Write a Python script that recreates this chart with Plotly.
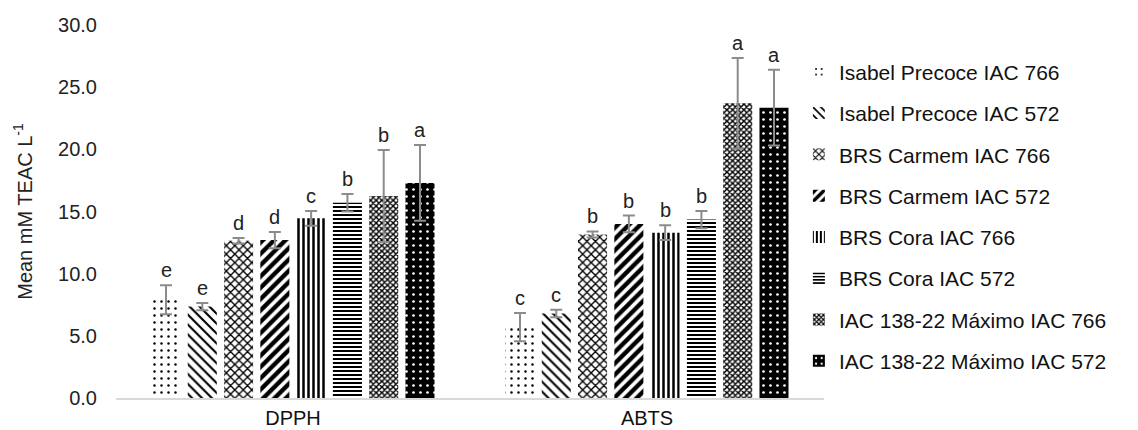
import plotly.graph_objects as go

assays = ["DPPH", "ABTS"]

cultivars = [
    "Isabel Precoce IAC 766",
    "Isabel Precoce IAC 572",
    "BRS Carmem IAC 766",
    "BRS Carmem IAC 572",
    "BRS Cora IAC 766",
    "BRS Cora IAC 572",
    "IAC 138-22 Máximo IAC 766",
    "IAC 138-22 Máximo IAC 572",
]

# Mean values per cultivar: [DPPH, ABTS]
means = [
    [7.9, 5.7],
    [7.35, 6.8],
    [12.65, 13.15],
    [12.7, 14.0],
    [14.45, 13.3],
    [15.7, 14.35],
    [16.25, 23.7],
    [17.3, 23.35],
]

# Standard deviations per cultivar: [DPPH, ABTS]
errors = [
    [1.17, 1.13],
    [0.3, 0.3],
    [0.22, 0.25],
    [0.65, 0.67],
    [0.6, 0.6],
    [0.7, 0.7],
    [3.7, 3.65],
    [3.05, 3.05],
]

# Significance letters per cultivar: [DPPH, ABTS]
letters = [
    ["e", "c"],
    ["e", "c"],
    ["d", "b"],
    ["d", "b"],
    ["c", "b"],
    ["b", "b"],
    ["b", "a"],
    ["a", "a"],
]

patterns = [
    dict(shape=".", size=7, solidity=0.1, fgcolor="black", bgcolor="white"),
    dict(shape="\\", size=7, solidity=0.3, fgcolor="black", bgcolor="white"),
    dict(shape="x", size=6, solidity=0.4, fgcolor="black", bgcolor="white"),
    dict(shape="/", size=8, solidity=0.55, fgcolor="black", bgcolor="white"),
    dict(shape="|", size=5, solidity=0.5, fgcolor="black", bgcolor="white"),
    dict(shape="-", size=4, solidity=0.5, fgcolor="black", bgcolor="white"),
    dict(shape="x", size=4, solidity=0.6, fgcolor="black", bgcolor="white"),
    dict(shape=".", size=7, solidity=0.12, fgcolor="white", bgcolor="black"),
]

FONT = "Arial, Liberation Sans, sans-serif"

fig = go.Figure()
for i, name in enumerate(cultivars):
    pat = dict(patterns[i], fgopacity=1, fillmode="replace")
    fig.add_trace(go.Bar(
        name=name,
        x=assays,
        y=means[i],
        legendgroup=name,
        marker=dict(color="white", line=dict(width=0), pattern=pat),
        error_y=dict(type="data", array=errors[i], visible=True,
                     color="#8c8c8c", thickness=2, width=6),
    ))

# Letters above each error bar
annotations = []
n = len(cultivars)
for i in range(n):
    for j, assay in enumerate(assays):
        offset = (i - (n - 1) / 2) / n * 0.82
        annotations.append(dict(
            x=j + offset, y=means[i][j] + errors[i][j],
            xref="x", yref="y",
            text=letters[i][j], showarrow=False,
            yanchor="bottom", yshift=2,
            font=dict(family=FONT, size=20, color="#222222"),
        ))

fig.update_layout(
    width=1138, height=430,
    margin=dict(l=116, r=314, t=25, b=32, autoexpand=False),
    paper_bgcolor="white", plot_bgcolor="white",
    barmode="group", bargap=0.18, bargroupgap=0.2,
    font=dict(family=FONT, size=20, color="#333333"),
    showlegend=True,
    legend=dict(
        x=0.702, xref="container", xanchor="left",
        y=0.88, yref="container", yanchor="top",
        font=dict(family=FONT, size=21, color="#111111"),
        tracegroupgap=11, traceorder="grouped",
        maxheight=1.0, itemclick=False,
    ),
    annotations=annotations,
)
fig.update_xaxes(
    type="category", range=[-0.5, 1.5], automargin=False,
    showline=True, linecolor="#d9d9d9", linewidth=2,
    showgrid=False, ticks="", ticklabelstandoff=1,
    tickfont=dict(family=FONT, size=20, color="#111111"),
)
fig.update_yaxes(
    range=[0, 30], dtick=5, tickformat=".1f", automargin=False,
    showgrid=False, zeroline=False, showline=False,
    ticks="", ticklabelstandoff=18,
    tickfont=dict(family=FONT, size=20, color="#222222"),
    title=dict(text="Mean mM TEAC L<sup>-1</sup>", standoff=20,
               font=dict(family=FONT, size=20, color="#222222")),
)

fig.write_html("out.html")
